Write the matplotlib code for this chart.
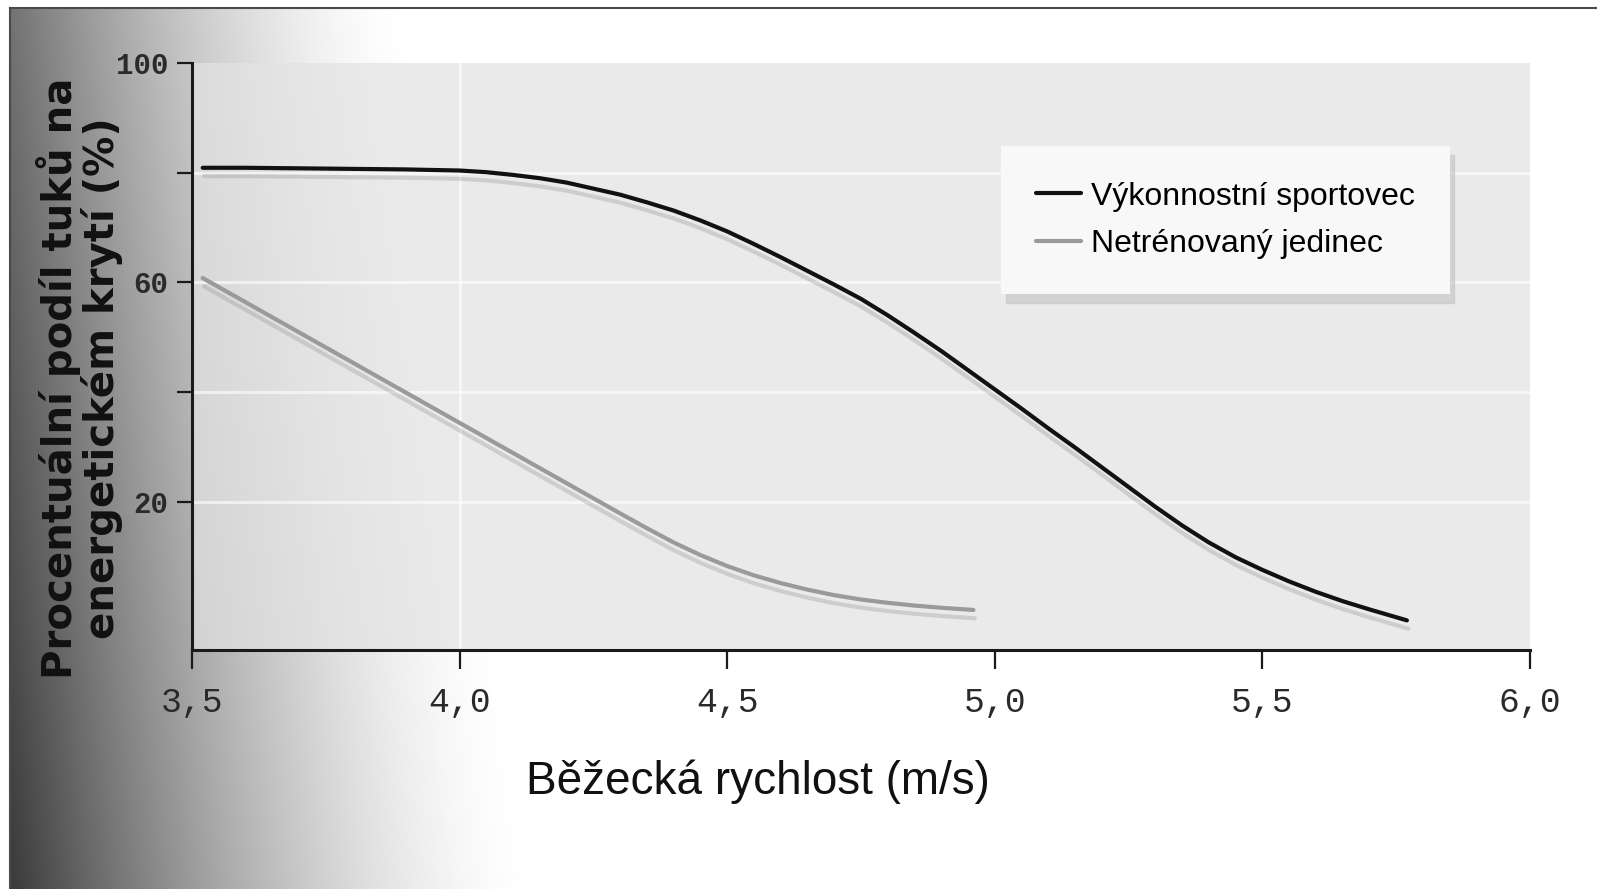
import numpy as np
import matplotlib
matplotlib.use("Agg")
import matplotlib.pyplot as plt
import matplotlib.patheffects as pe

# data
x_trained = [3.52, 3.60, 3.70, 3.80, 3.90, 4.00, 4.05, 4.10, 4.15, 4.20,
             4.25, 4.30, 4.35, 4.40, 4.45, 4.50, 4.55, 4.60, 4.65, 4.70,
             4.75, 4.80, 4.85, 4.90, 4.95, 5.00, 5.05, 5.10, 5.15, 5.20,
             5.25, 5.30, 5.35, 5.40, 5.45, 5.50, 5.55, 5.60, 5.65, 5.70, 5.77]
y_trained = [80.9, 80.9, 80.8, 80.7, 80.6, 80.4, 80.1, 79.6, 79.0, 78.2,
             77.1, 76.0, 74.6, 73.1, 71.3, 69.3, 67.0, 64.6, 62.1, 59.6,
             57.0, 54.0, 50.8, 47.5, 44.0, 40.5, 37.0, 33.4, 29.9, 26.3,
             22.7, 19.1, 15.7, 12.6, 9.9, 7.6, 5.5, 3.6, 1.9, 0.4, -1.6]

x_untrained = [3.52, 3.60, 3.70, 3.80, 3.90, 4.00, 4.10, 4.20, 4.30, 4.35,
               4.40, 4.45, 4.50, 4.55, 4.60, 4.65, 4.70, 4.75, 4.80, 4.85,
               4.90, 4.96]
y_untrained = [60.8, 56.4, 50.9, 45.4, 39.9, 34.4, 28.9, 23.4, 17.9, 15.2,
               12.6, 10.3, 8.3, 6.6, 5.2, 4.0, 3.0, 2.2, 1.6, 1.1,
               0.7, 0.3]

labels = ["Výkonnostní sportovec", "Netrénovaný jedinec"]
x_ticks = [3.5, 4.0, 4.5, 5.0, 5.5, 6.0]
x_ticklabels = ["3,5", "4,0", "4,5", "5,0", "5,5", "6,0"]
y_ticks = [20, 40, 60, 80, 100]
y_ticklabels = ["20", "", "60", "", "100"]

fig = plt.figure(figsize=(15.97, 8.89), dpi=100)

# scanned page background: dark fade on the left, thin frame on top/left
bg = fig.add_axes([10 / 1597, 0, 1 - 10 / 1597, 1 - 8 / 889])
bg.set_zorder(-10)
w, h = 800, 450
xx = np.linspace(0, 1587, w)[None, :]
yy = np.linspace(0, 1, h)[:, None]        # 0 = top, 1 = bottom
width = 400 + 130 * yy
depth = 0.55 + 0.22 * yy
t = np.clip(xx / width, 0, 1)
img = 1 - depth * (1 - t) ** 1.6
bg.imshow(img, cmap="gray", vmin=0, vmax=1, aspect="auto",
          extent=[0, 1, 0, 1], origin="upper")
bg.set_xticks([])
bg.set_yticks([])
for s in ["right", "bottom"]:
    bg.spines[s].set_visible(False)
for s in ["top", "left"]:
    bg.spines[s].set_color("#4a4a4a")
    bg.spines[s].set_linewidth(1.5)

ax = fig.add_axes([192 / 1597, 1 - 650 / 889, 1338 / 1597, 587 / 889])
ax.patch.set_facecolor((0.89, 0.89, 0.89, 0.72))

for yv in [20, 40, 60, 80]:
    ax.axhline(yv, color="white", lw=2.2, alpha=0.6, zorder=1)
ax.axvline(4.0, color="white", lw=2.2, alpha=0.6, zorder=1)

ghost = [pe.SimpleLineShadow(offset=(1, -6), shadow_color="0.55", alpha=0.3), pe.Normal()]
ax.plot(x_trained, y_trained, color="#111111", lw=3, label=labels[0],
        solid_capstyle="round", zorder=3, path_effects=ghost)
ax.plot(x_untrained, y_untrained, color="#9a9a9a", lw=3, label=labels[1],
        solid_capstyle="round", zorder=3, path_effects=ghost)

ax.set_xlim(3.5, 6.0)
ax.set_ylim(-7, 100)
ax.spines["top"].set_visible(False)
ax.spines["right"].set_visible(False)
for s in ["left", "bottom"]:
    ax.spines[s].set_linewidth(2.2)
    ax.spines[s].set_color("#1a1a1a")

ax.set_xticks(x_ticks)
ax.set_xticklabels(x_ticklabels, family="Liberation Mono", fontsize=25, color="#2a2a2a")
ax.set_yticks(y_ticks)
ax.set_yticklabels(y_ticklabels, family="Liberation Mono", fontsize=21,
                   fontweight="bold", color="#2a2a2a")
ax.tick_params(axis="x", length=14, width=1.6, pad=12, color="#1a1a1a")
ax.tick_params(axis="y", length=11, width=1.6, pad=6, color="#1a1a1a")

leg = ax.legend(loc="upper right", bbox_to_anchor=(0.952, 0.885),
                prop={"family": "Liberation Sans", "size": 23},
                handlelength=1.4, handletextpad=0.3, labelspacing=0.55,
                borderpad=1.1, frameon=True, fancybox=False,
                shadow={"ox": 3, "oy": -6, "color": "0.75", "alpha": 0.55})
leg.get_frame().set_facecolor("#f8f8f8")
leg.get_frame().set_edgecolor("none")
leg.get_frame().set_alpha(1)
for line in leg.get_lines():
    line.set_path_effects([])

fig.text(758 / 1597, 1 - 782 / 889, "Běžecká rychlost (m/s)",
         family="Liberation Sans", fontsize=33, color="#111111",
         ha="center", va="center")
fig.text(80 / 1597, 1 - 378 / 889, "Procentuální podíl tuků na\nenergetickém krytí (%)",
         family="DejaVu Sans", fontweight="bold", fontsize=29, color="#111111",
         rotation=90, ha="center", va="center", multialignment="center",
         linespacing=1.0)

fig.savefig("out.png", dpi=100)
